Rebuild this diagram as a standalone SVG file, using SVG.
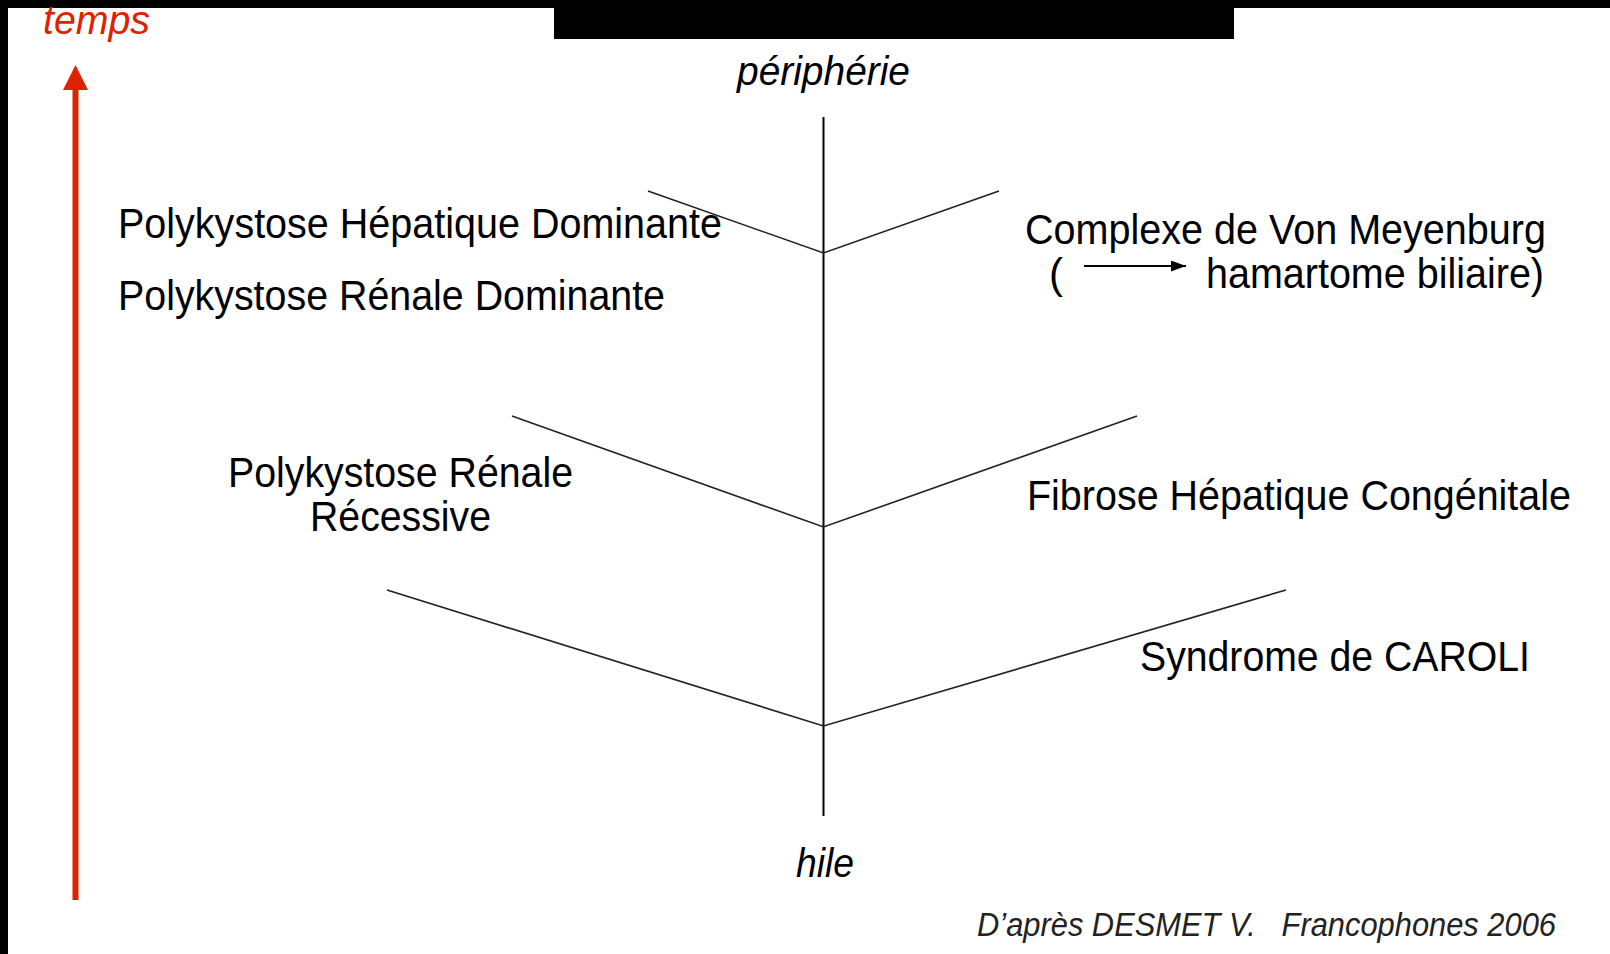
<svg xmlns="http://www.w3.org/2000/svg" width="1610" height="954" viewBox="0 0 1610 954">
<defs>
<style>
.t{font-family:"Liberation Sans",Arial,sans-serif;font-size:42px;fill:#000}
.i{font-family:"Liberation Sans",Arial,sans-serif;font-style:italic;fill:#000}
.br{stroke:#222;stroke-width:1.6;fill:none}
</style>
<marker id="ah" viewBox="0 0 15 11" refX="15" refY="5.5" markerWidth="15" markerHeight="11" markerUnits="userSpaceOnUse" orient="auto"><path d="M0,0 L15,5.5 L0,11 z" fill="#000"/></marker>
</defs>
<rect x="0" y="0" width="1610" height="954" fill="#fff"/>
<rect x="0" y="0" width="1610" height="8" fill="#000"/>
<rect x="0" y="0" width="8" height="954" fill="#000"/>
<rect x="554" y="0" width="680" height="39" fill="#000"/>

<g id="time-axis">
<line x1="75.5" y1="900" x2="75.5" y2="88" stroke="#dd2200" stroke-width="6"/>
<polygon points="75.5,65 63,90 88,90" fill="#dd2200"/>
<text class="i" x="43" y="34" font-size="40" style="fill:#dd2200" textLength="107" lengthAdjust="spacingAndGlyphs">temps</text>
</g>

<g id="connectors">
<line x1="823.5" y1="117" x2="823.5" y2="816" stroke="#000" stroke-width="2"/>
<polyline class="br" points="648,191 823.5,253 999,191"/>
<polyline class="br" points="512,416 823.5,527 1137,416"/>
<polyline class="br" points="387,590 823.5,726 1286,590"/>
<line x1="1084" y1="266" x2="1186" y2="266" stroke="#000" stroke-width="2" marker-end="url(#ah)"/>
</g>

<g id="peripherie"><text class="i" x="737" y="85" font-size="40" textLength="173" lengthAdjust="spacingAndGlyphs">périphérie</text></g>
<g id="hile"><text class="i" x="796" y="877" font-size="40" textLength="58" lengthAdjust="spacingAndGlyphs">hile</text></g>

<g id="phd"><text class="t" x="118" y="238" textLength="604" lengthAdjust="spacingAndGlyphs">Polykystose Hépatique Dominante</text></g>
<g id="prd"><text class="t" x="118" y="310" textLength="547" lengthAdjust="spacingAndGlyphs">Polykystose Rénale Dominante</text></g>
<g id="prr">
<text class="t" x="228" y="487" textLength="345" lengthAdjust="spacingAndGlyphs">Polykystose Rénale</text>
<text class="t" x="310" y="531" textLength="181" lengthAdjust="spacingAndGlyphs">Récessive</text>
</g>
<g id="vonmeyenburg">
<text class="t" x="1025" y="244" textLength="521" lengthAdjust="spacingAndGlyphs">Complexe de Von Meyenburg</text>
<text class="t" x="1049" y="288">(</text>
<text class="t" x="1206" y="288" textLength="338" lengthAdjust="spacingAndGlyphs">hamartome biliaire)</text>
</g>
<g id="fhc"><text class="t" x="1027" y="510" textLength="544" lengthAdjust="spacingAndGlyphs">Fibrose Hépatique Congénitale</text></g>
<g id="caroli"><text class="t" x="1140" y="671" textLength="390" lengthAdjust="spacingAndGlyphs">Syndrome de CAROLI</text></g>

<g id="source"><text class="i" x="977" y="936" font-size="33" style="fill:#222" xml:space="preserve" textLength="579" lengthAdjust="spacingAndGlyphs">D’après DESMET V.   Francophones 2006</text></g>
</svg>
